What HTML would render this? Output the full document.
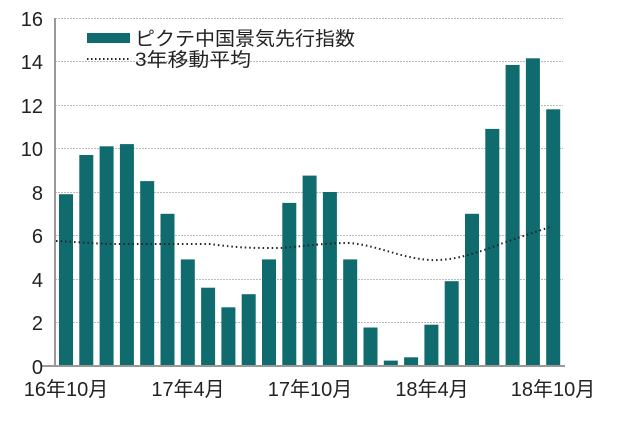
<!DOCTYPE html>
<html><head><meta charset="utf-8"><style>
body{margin:0;background:#fff}
svg text{font-family:"Liberation Sans","Noto Sans CJK JP",sans-serif;fill:#222}
</style></head><body>
<svg width="626" height="418" xmlns="http://www.w3.org/2000/svg">
<g stroke="#bbb" stroke-width="1" stroke-dasharray="2,1">
<line x1="55" x2="563" y1="18.5" y2="18.5"/>
<line x1="55" x2="563" y1="61.5" y2="61.5"/>
<line x1="55" x2="563" y1="105.5" y2="105.5"/>
<line x1="55" x2="563" y1="148.5" y2="148.5"/>
<line x1="55" x2="563" y1="192.5" y2="192.5"/>
<line x1="55" x2="563" y1="235.5" y2="235.5"/>
<line x1="55" x2="563" y1="279.5" y2="279.5"/>
<line x1="55" x2="563" y1="322.5" y2="322.5"/>
</g>
<g fill="#106b6e">
<rect x="59" y="194.2" width="14" height="171.8"/>
<rect x="79.3" y="155" width="14" height="211"/>
<rect x="99.6" y="146.3" width="14" height="219.7"/>
<rect x="119.9" y="144.1" width="14" height="221.9"/>
<rect x="140.2" y="181.1" width="14" height="184.9"/>
<rect x="160.5" y="213.8" width="14" height="152.2"/>
<rect x="180.8" y="259.4" width="14" height="106.6"/>
<rect x="201.1" y="287.7" width="14" height="78.3"/>
<rect x="221.4" y="307.3" width="14" height="58.7"/>
<rect x="241.7" y="294.2" width="14" height="71.8"/>
<rect x="262" y="259.4" width="14" height="106.6"/>
<rect x="282.3" y="202.9" width="14" height="163.1"/>
<rect x="302.6" y="175.6" width="14" height="190.4"/>
<rect x="322.9" y="192" width="14" height="174"/>
<rect x="343.2" y="259.4" width="14" height="106.6"/>
<rect x="363.5" y="327.5" width="14" height="38.5"/>
<rect x="383.8" y="360.6" width="14" height="5.4"/>
<rect x="404.1" y="357.3" width="14" height="8.7"/>
<rect x="424.4" y="324.7" width="14" height="41.3"/>
<rect x="444.7" y="281.2" width="14" height="84.8"/>
<rect x="465" y="213.8" width="14" height="152.2"/>
<rect x="485.3" y="128.9" width="14" height="237.1"/>
<rect x="505.6" y="65" width="14" height="301"/>
<rect x="525.9" y="58.3" width="14" height="307.7"/>
<rect x="546.2" y="109.3" width="14" height="256.7"/>
</g>
<path d="M56,241 C80,242 95,244 120,244 L210,244 C240,248 250,248 280,248 C300,247 320,243 350,243 C380,246 400,258 430,260 C450,261 470,255 490,248 C510,240 530,234 550,227" fill="none" stroke="#222" stroke-width="2" stroke-dasharray="1.5,3"/>
<line x1="55" x2="55" y1="18" y2="366" stroke="#999" stroke-width="2"/>
<line x1="42" x2="565" y1="366" y2="366" stroke="#999" stroke-width="2"/>
<g font-size="20" text-anchor="end">
<text x="43" y="26">16</text><text x="43" y="69">14</text><text x="43" y="113">12</text>
<text x="43" y="156">10</text><text x="43" y="200">8</text><text x="43" y="243">6</text>
<text x="43" y="287">4</text><text x="43" y="330">2</text><text x="43" y="374">0</text>
</g>
<g font-size="20" text-anchor="middle">
<text x="66" y="396">16年10月</text><text x="188" y="396">17年4月</text>
<text x="310" y="396">17年10月</text><text x="432" y="396">18年4月</text>
<text x="553" y="396">18年10月</text>
</g>
<rect x="87" y="33" width="43" height="10" fill="#106b6e"/>
<line x1="87" x2="130" y1="59" y2="59" stroke="#222" stroke-width="2" stroke-dasharray="1.5,2.5"/>
<text x="135" y="45" font-size="19" textLength="220" lengthAdjust="spacingAndGlyphs">ピクテ中国景気先行指数</text>
<text x="135" y="66" font-size="19" textLength="116" lengthAdjust="spacingAndGlyphs">3年移動平均</text>
</svg>
</body></html>
